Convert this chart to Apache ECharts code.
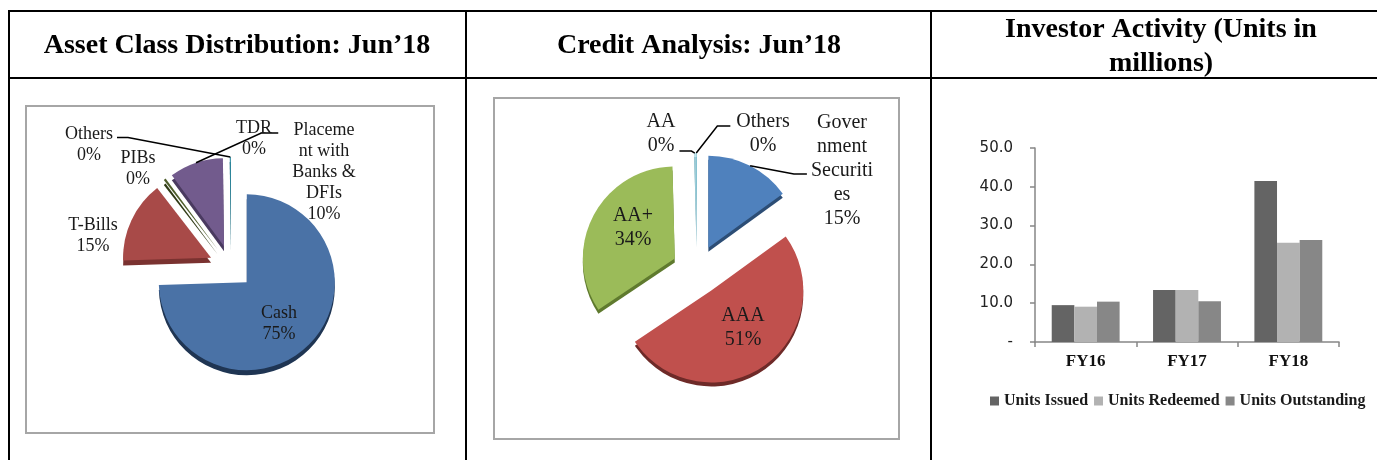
<!DOCTYPE html>
<html><head><meta charset="utf-8">
<script src="https://cdn.jsdelivr.net/npm/echarts@6/dist/echarts.min.js"></script>
<style>html,body{margin:0;padding:0;background:#fff}#c{width:1377px;height:460px}</style>
</head><body><div id="c"></div>
<script>
// ---------- data ----------
const assetCategories = ['Cash', 'T-Bills', 'PIBs', 'Placement with Banks & DFIs', 'Others', 'TDR'];
const assetValues = [74.5, 15.0, 0.4, 9.9, 0.2, 0.0];
const creditCategories = ['Government Securities', 'AAA', 'AA+', 'AA', 'Others'];
const creditValues = [15.0, 50.6, 34.0, 0.2, 0.2];
const fiscalYears = ['FY16', 'FY17', 'FY18'];
const unitsIssued = [9.5, 13.4, 41.5];
const unitsRedeemed = [9.1, 13.4, 25.6];
const unitsOutstanding = [10.4, 10.5, 26.3];
const barSeriesNames = ['Units Issued', 'Units Redeemed', 'Units Outstanding'];
const titles = ['Asset Class Distribution: Jun\u201918', 'Credit Analysis: Jun\u201918', 'Investor Activity (Units in\nmillions)'];
// label text as wrapped in the picture
const wrappedNames = {
  'Placement with Banks & DFIs': 'Placeme\nnt with\nBanks &\nDFIs',
  'Government Securities': 'Gover\nnment\nSecuriti\nes'
};

// ---------- styles ----------
const SERIF = '"Liberation Serif", "DejaVu Serif", serif';
const pie1 = { center: [231, 267], r: 88, offset: 22, depth: 5, font: 18, lh: 21, textDy: 2,
  top: ['#4a72a6', '#a84a48', '#4e5d2b', '#725b8d', '#2c8aa0', '#d68a3c'],
  side: ['#1f3553', '#7a3230', '#2f3a15', '#4a3a60', '#1c5a69', '#8a5520'],
  labelPos: { 'Cash': [48, 55], 'T-Bills': [-138, -33], 'PIBs': [-93, -100],
    'Placement with Banks & DFIs': [93, -97], 'Others': [-142, -124], 'TDR': [23, -130] },
  leader: { 'Others': { side: 'right', line: 'first', gap: 4, len: 11, dy: 3 },
    'Placement with Banks & DFIs': { side: 'left', line: 'first', gap: 14, len: 17, dy: 3 } } };
const pie2 = { center: [697, 270], r: 92, offset: 25, depth: 4, font: 20, lh: 24, textDy: 1,
  top: ['#4f81bd', '#c0504d', '#9bbb59', '#a3d4e0', '#8cc9d9'],
  side: ['#2c4d75', '#6e2a28', '#5f7a2e', '#5c98a8', '#5c98a8'],
  labelPos: { 'Government Securities': [145, -100], 'AAA': [46, 57], 'AA+': [-64, -43],
    'AA': [-36, -137], 'Others': [66, -137] },
  leader: { 'AA': { side: 'right', line: 'last', gap: 4, len: 12, dy: 5 },
    'Others': { side: 'left', line: 'first', gap: 6, len: 13, dy: 4 },
    'Government Securities': { side: 'left', line: 'mid', gap: 4, len: 13, dy: 3 } } };

function labelLayoutFor(cfg, cats) {
  return function (p) {
    const name = cats[p.dataIndex];
    const off = cfg.labelPos[name] || [0, 0];
    const x = cfg.center[0] + off[0];
    const y = cfg.center[1] + off[1] + cfg.textDy;
    const res = { x: x, y: y, align: 'center', verticalAlign: 'middle' };
    const ld = cfg.leader[name];
    if (ld && p.labelLinePoints && p.labelLinePoints.length) {
      const w = p.labelRect.width, h = p.labelRect.height;
      const x0 = x - w / 2, y0 = y - h / 2;
      const ax = ld.side === 'left' ? x0 - ld.gap : x0 + w + ld.gap;
      const ay = (ld.line === 'first' ? y0 + cfg.lh / 2 : (ld.line === 'last' ? y0 + h - cfg.lh / 2 : y)) + ld.dy;
      const bx = ld.side === 'left' ? ax - ld.len : ax + ld.len;
      // slice edge point given by the pie layout, pushed out by the explode offset
      const e = p.labelLinePoints[0];
      const vx = e[0] - cfg.center[0], vy = e[1] - cfg.center[1];
      const vl = Math.sqrt(vx * vx + vy * vy) || 1;
      const ex = e[0] + cfg.offset * vx / vl, ey = e[1] + cfg.offset * vy / vl;
      res.labelLinePoints = [[ex, ey], [bx, ay], [ax, ay]];
    }
    return res;
  };
}

function pieData(cats, vals, colors, cfg, selected, withLeader) {
  return cats.map(function (c, i) {
    const d = { name: c, value: vals[i], selected: selected, itemStyle: { color: colors[i] } };
    if (withLeader) d.labelLine = { show: !!cfg.leader[c] };
    return d;
  });
}

// exploded slices (side = darker 3-D rim drawn a few pixels lower)
function pieSlices(cats, vals, cfg, isSide) {
  return {
    type: 'pie', silent: true, z: isSide ? 1 : 2,
    center: isSide ? [cfg.center[0], cfg.center[1] + cfg.depth] : cfg.center, radius: cfg.r,
    startAngle: 90, clockwise: true, selectedMode: 'multiple', selectedOffset: cfg.offset,
    label: { show: false }, labelLine: { show: false }, emphasis: { disabled: true },
    data: pieData(cats, vals, isSide ? cfg.side : cfg.top, cfg, true, false)
  };
}

// label carrier: same pie, invisible fill, not exploded
function pieLabels(cats, vals, cfg) {
  const clear = cats.map(function () { return 'rgba(0,0,0,0)'; });
  return {
    type: 'pie', silent: true, z: 3, center: cfg.center, radius: cfg.r,
    startAngle: 90, clockwise: true, selectedMode: false,
    avoidLabelOverlap: false, percentPrecision: 0, emphasis: { disabled: true },
    label: {
      show: true, position: 'outside', alignTo: 'none',
      fontFamily: SERIF, fontSize: cfg.font, lineHeight: cfg.lh, color: '#1a1a1a',
      formatter: function (p) { return (wrappedNames[p.name] || p.name) + '\n' + Math.round(p.percent) + '%'; }
    },
    labelLine: { show: false, lineStyle: { color: '#000', width: 1.5 } },
    labelLayout: labelLayoutFor(cfg, cats),
    data: pieData(cats, vals, clear, cfg, false, true)
  };
}

const chart = echarts.init(document.getElementById('c'), null, { renderer: 'canvas' });
const black = '#000';
const option = {
  animation: false,
  graphic: [
    // table rules
    { type: 'line', shape: { x1: 8, y1: 11, x2: 1377, y2: 11 }, style: { stroke: black, lineWidth: 2 } },
    { type: 'line', shape: { x1: 8, y1: 78, x2: 1377, y2: 78 }, style: { stroke: black, lineWidth: 2 } },
    { type: 'line', shape: { x1: 9, y1: 10, x2: 9, y2: 460 }, style: { stroke: black, lineWidth: 2 } },
    { type: 'line', shape: { x1: 466, y1: 10, x2: 466, y2: 460 }, style: { stroke: black, lineWidth: 2 } },
    { type: 'line', shape: { x1: 931, y1: 10, x2: 931, y2: 460 }, style: { stroke: black, lineWidth: 2 } },
    // chart frames
    { type: 'rect', shape: { x: 26, y: 106, width: 408, height: 327 }, style: { fill: 'none', stroke: '#a6a6a6', lineWidth: 2 } },
    { type: 'rect', shape: { x: 494, y: 98, width: 405, height: 341 }, style: { fill: 'none', stroke: '#a6a6a6', lineWidth: 2 } },
    // titles
    { type: 'text', x: 237, y: 46, style: { text: titles[0], fill: black, font: 'bold 28px ' + SERIF, textAlign: 'center', textVerticalAlign: 'middle' } },
    { type: 'text', x: 699, y: 46, style: { text: titles[1], fill: black, font: 'bold 28px ' + SERIF, textAlign: 'center', textVerticalAlign: 'middle' } },
    { type: 'text', x: 1161, y: 47, style: { text: titles[2], fill: black, font: 'bold 28px ' + SERIF, lineHeight: 34, textAlign: 'center', textVerticalAlign: 'middle' } }
  ],
  legend: {
    data: barSeriesNames, left: 990, top: 393, padding: 0, icon: 'rect', itemWidth: 9, itemHeight: 9, itemGap: 6,
    textStyle: { fontFamily: SERIF, fontWeight: 'bold', fontSize: 16, color: '#1a1a1a' }
  },
  grid: { left: 1035, top: 148, width: 304, height: 194 },
  xAxis: {
    type: 'category', data: fiscalYears,
    axisLine: { lineStyle: { color: '#868686', width: 1.5 } },
    axisTick: { show: true, length: 5, lineStyle: { color: '#868686', width: 1.5 } },
    axisLabel: { margin: 11, fontFamily: SERIF, fontWeight: 'bold', fontSize: 17, color: '#111' }
  },
  yAxis: {
    type: 'value', min: 0, max: 50, interval: 10,
    axisLine: { show: true, lineStyle: { color: '#868686', width: 1.5 } },
    axisTick: { show: true, length: 5, lineStyle: { color: '#868686', width: 1.5 } },
    splitLine: { show: false },
    axisLabel: { margin: 22, fontFamily: '"DejaVu Sans", sans-serif', fontSize: 15, color: '#222',
      formatter: function (v) { return v === 0 ? '-' : v.toFixed(1); } }
  },
  series: [
    pieSlices(assetCategories, assetValues, pie1, true),
    pieSlices(assetCategories, assetValues, pie1, false),
    pieLabels(assetCategories, assetValues, pie1),
    pieSlices(creditCategories, creditValues, pie2, true),
    pieSlices(creditCategories, creditValues, pie2, false),
    pieLabels(creditCategories, creditValues, pie2),
    { type: 'bar', name: barSeriesNames[0], data: unitsIssued, itemStyle: { color: '#646464' }, barGap: '0%', barCategoryGap: '33%' },
    { type: 'bar', name: barSeriesNames[1], data: unitsRedeemed, itemStyle: { color: '#b2b2b2' }, barGap: '0%', barCategoryGap: '33%' },
    { type: 'bar', name: barSeriesNames[2], data: unitsOutstanding, itemStyle: { color: '#878787' }, barGap: '0%', barCategoryGap: '33%' }
  ]
};
chart.setOption(option);
</script></body></html>
